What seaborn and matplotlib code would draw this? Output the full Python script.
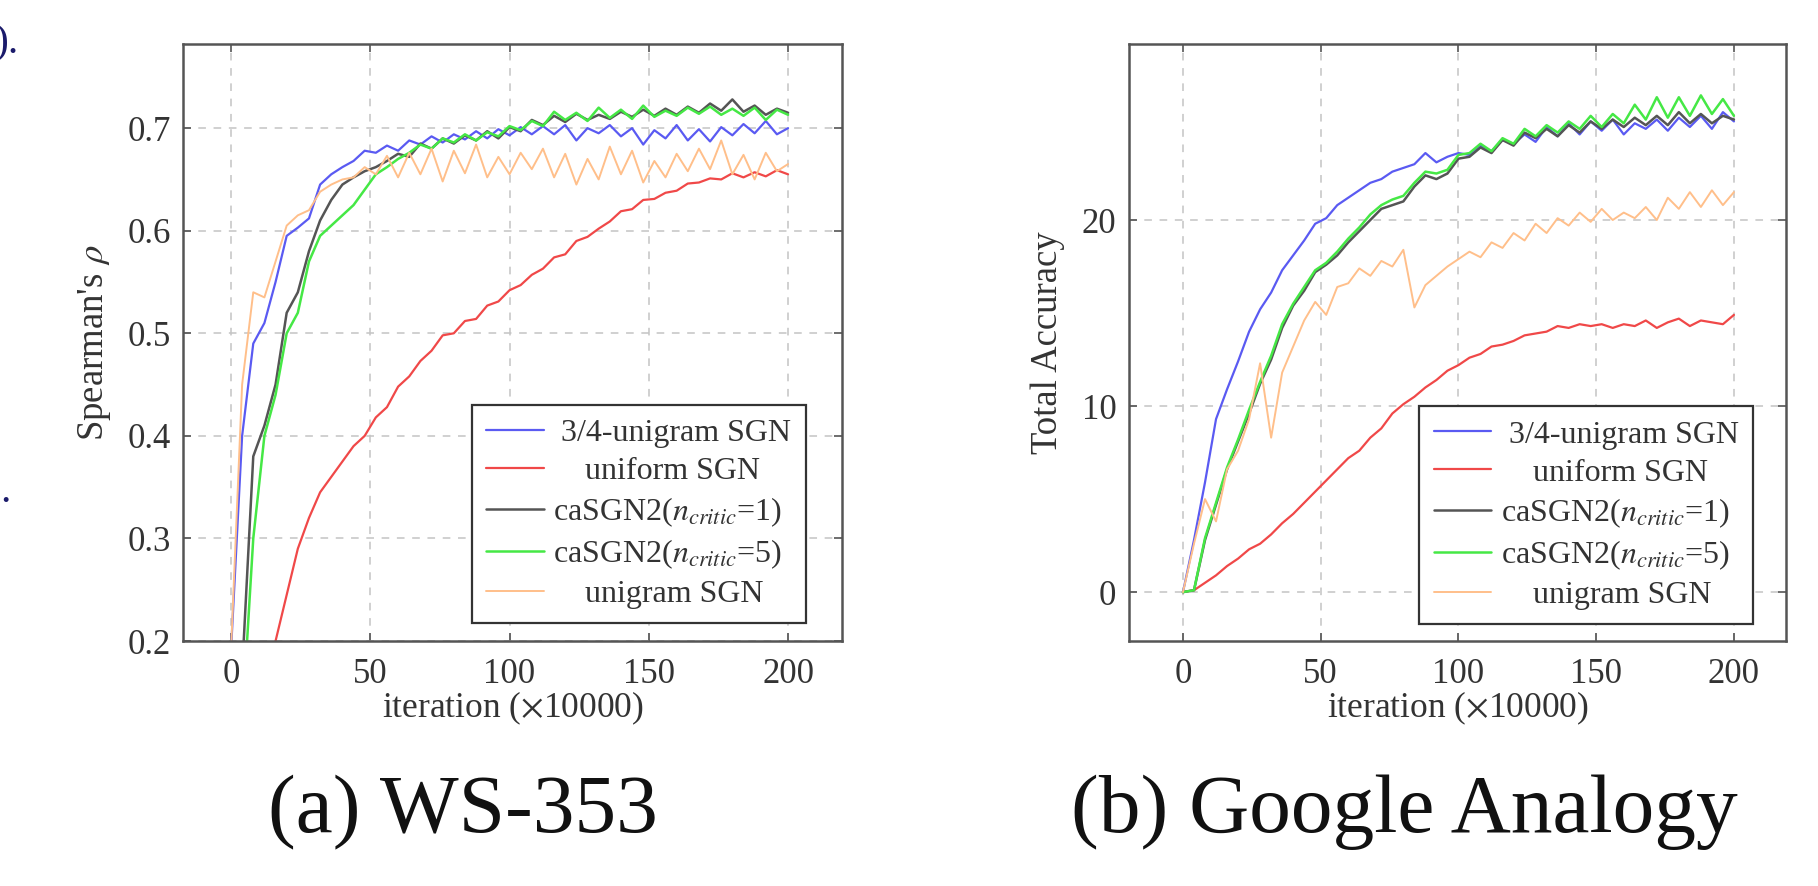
import numpy as np
import matplotlib
matplotlib.use("Agg")
import matplotlib.pyplot as plt
import seaborn as sns

# iterations (x10000), shared by every series
iters = list(range(0, 201, 4))

series_names = [" 3/4-unigram SGN", "    uniform SGN", r"caSGN2($n_{critic}$=1)",
                r"caSGN2($n_{critic}$=5)", "    unigram SGN"]
series_colors = ["#5a5af2", "#f04848", "#555555", "#45e845", "#ffbf8a"]
series_widths = [1.6, 1.6, 1.8, 1.8, 1.4]

# (a) WS-353, Spearman's rho
ws_blue = [0.19, 0.40, 0.49, 0.51, 0.55, 0.595, 0.603, 0.612, 0.645, 0.655, 0.662, 0.668, 0.678,
           0.676, 0.683, 0.678, 0.688, 0.684, 0.692, 0.686, 0.694, 0.689, 0.697, 0.690, 0.699,
           0.693, 0.701, 0.694, 0.702, 0.694, 0.703, 0.688, 0.700, 0.695, 0.703, 0.692, 0.700,
           0.684, 0.698, 0.690, 0.703, 0.688, 0.699, 0.687, 0.701, 0.693, 0.704, 0.695, 0.707,
           0.694, 0.700]
ws_red = [0.0, 0.03, 0.08, 0.14, 0.20, 0.245, 0.29, 0.32, 0.345, 0.36, 0.375, 0.39, 0.40,
          0.418, 0.428, 0.448, 0.458, 0.473, 0.483, 0.498, 0.50, 0.512, 0.514, 0.527, 0.531,
          0.542, 0.547, 0.557, 0.563, 0.574, 0.577, 0.590, 0.594, 0.602, 0.609, 0.619, 0.621,
          0.630, 0.631, 0.637, 0.639, 0.646, 0.647, 0.651, 0.650, 0.656, 0.652, 0.657, 0.653,
          0.659, 0.655]
ws_black = [0.0, 0.17, 0.38, 0.41, 0.45, 0.52, 0.54, 0.58, 0.61, 0.63, 0.645, 0.652, 0.658,
            0.662, 0.668, 0.675, 0.672, 0.685, 0.680, 0.690, 0.685, 0.693, 0.688, 0.697, 0.690,
            0.701, 0.697, 0.708, 0.703, 0.712, 0.706, 0.714, 0.708, 0.713, 0.709, 0.716, 0.711,
            0.718, 0.712, 0.719, 0.713, 0.721, 0.715, 0.724, 0.717, 0.728, 0.716, 0.722, 0.713,
            0.719, 0.715]
ws_green = [0.0, 0.12, 0.30, 0.40, 0.44, 0.50, 0.52, 0.57, 0.595, 0.605, 0.615, 0.625, 0.64,
            0.655, 0.662, 0.670, 0.676, 0.684, 0.680, 0.690, 0.686, 0.694, 0.688, 0.696, 0.692,
            0.702, 0.698, 0.707, 0.702, 0.716, 0.708, 0.715, 0.707, 0.720, 0.710, 0.718, 0.709,
            0.722, 0.711, 0.717, 0.712, 0.720, 0.714, 0.721, 0.713, 0.719, 0.712, 0.720, 0.708,
            0.718, 0.713]
ws_orange = [0.19, 0.45, 0.54, 0.535, 0.57, 0.605, 0.615, 0.62, 0.638, 0.645, 0.65, 0.652, 0.662,
             0.655, 0.673, 0.652, 0.676, 0.655, 0.680, 0.648, 0.678, 0.656, 0.684, 0.652, 0.672,
             0.655, 0.676, 0.660, 0.680, 0.652, 0.675, 0.645, 0.670, 0.650, 0.682, 0.655, 0.678,
             0.647, 0.668, 0.652, 0.675, 0.658, 0.680, 0.660, 0.688, 0.655, 0.674, 0.650, 0.676,
             0.658, 0.665]

# (b) Google Analogy, total accuracy
ga_blue = [0.0, 2.8, 5.9, 9.3, 10.9, 12.4, 14.0, 15.2, 16.1, 17.3, 18.1, 18.9, 19.8, 20.1, 20.8,
           21.2, 21.6, 22.0, 22.2, 22.6, 22.8, 23.0, 23.6, 23.1, 23.4, 23.6, 23.5, 24.0, 23.7,
           24.3, 24.1, 24.6, 24.2, 25.0, 24.5, 25.2, 24.6, 25.3, 24.8, 25.4, 24.6, 25.2, 24.9,
           25.4, 24.8, 25.5, 25.0, 25.6, 24.9, 25.8, 25.3]
ga_red = [0.0, 0.1, 0.5, 0.9, 1.4, 1.8, 2.3, 2.6, 3.1, 3.7, 4.2, 4.8, 5.4, 6.0, 6.6, 7.2, 7.6,
          8.3, 8.8, 9.6, 10.1, 10.5, 11.0, 11.4, 11.9, 12.2, 12.6, 12.8, 13.2, 13.3, 13.5, 13.8,
          13.9, 14.0, 14.3, 14.2, 14.4, 14.3, 14.4, 14.2, 14.4, 14.3, 14.6, 14.2, 14.5, 14.7,
          14.3, 14.6, 14.5, 14.4, 14.9]
ga_black = [0.0, 0.1, 2.8, 4.7, 6.6, 8.1, 9.6, 11.2, 12.5, 14.2, 15.4, 16.2, 17.2, 17.6, 18.1,
            18.8, 19.4, 20.0, 20.6, 20.8, 21.0, 21.8, 22.4, 22.2, 22.5, 23.3, 23.4, 23.9, 23.6,
            24.3, 24.0, 24.7, 24.4, 24.9, 24.5, 25.1, 24.7, 25.3, 24.9, 25.4, 25.0, 25.5, 25.1,
            25.6, 25.1, 25.8, 25.2, 25.7, 25.2, 25.6, 25.4]
ga_green = [0.0, 0.1, 2.9, 4.8, 6.7, 8.2, 9.8, 11.3, 12.7, 14.4, 15.5, 16.4, 17.3, 17.7, 18.3,
            19.0, 19.6, 20.3, 20.8, 21.1, 21.3, 22.0, 22.6, 22.5, 22.7, 23.5, 23.6, 24.1, 23.7,
            24.4, 24.1, 24.9, 24.5, 25.1, 24.7, 25.3, 24.9, 25.6, 25.0, 25.7, 25.2, 26.2, 25.4,
            26.6, 25.5, 26.6, 25.6, 26.7, 25.7, 26.5, 25.6]
ga_orange = [0.0, 2.6, 5.0, 3.8, 6.6, 7.6, 9.3, 12.3, 8.3, 11.8, 13.2, 14.6, 15.6, 14.9, 16.4,
             16.6, 17.4, 17.0, 17.8, 17.5, 18.4, 15.3, 16.5, 17.0, 17.5, 17.9, 18.3, 18.0, 18.8,
             18.5, 19.3, 18.9, 19.8, 19.3, 20.1, 19.7, 20.4, 19.9, 20.6, 20.0, 20.4, 20.1, 20.7,
             20.0, 21.2, 20.6, 21.5, 20.7, 21.6, 20.8, 21.5]

ws_ticks = [0.2, 0.3, 0.4, 0.5, 0.6, 0.7]
ga_ticks = [0, 10, 20]
x_ticks = [0, 50, 100, 150, 200]

sns.set_theme(style="white")
plt.rcParams["font.family"] = ["Liberation Serif", "DejaVu Serif"]
plt.rcParams["mathtext.fontset"] = "stix"

fig = plt.figure(figsize=(18.18, 8.86), dpi=100)
ax1 = fig.add_axes([0.1007, 0.2765, 0.3625, 0.6738])
ax2 = fig.add_axes([0.621, 0.2765, 0.3614, 0.6738])


def draw_panel(ax, data, yticks, ylim, xlim, ylabel, ylab_x, leg_anchor):
    for vals, name, col, lw in zip(data, series_names, series_colors, series_widths):
        sns.lineplot(x=iters, y=vals, ax=ax, color=col, linewidth=lw, label=name)
    ax.set_xlim(*xlim)
    ax.set_ylim(*ylim)
    ax.set_xticks(x_ticks)
    ax.set_yticks(yticks)
    ax.grid(True, color="#c4c4c4", linestyle=(0, (5, 5)), linewidth=1.1)
    for sp in ax.spines.values():
        sp.set_color("#555555")
        sp.set_linewidth(1.8)
    ax.tick_params(direction="in", length=6, width=1.2, color="#555555", labelsize=25,
                   labelcolor="#333333", top=True, right=True, bottom=True, left=True)
    ax.tick_params(axis="x", pad=12)
    ax.tick_params(axis="y", pad=9)
    ax.set_xlabel(r"iteration ($\times$10000)", fontsize=25.5, color="#333333")
    ax.set_ylabel(ylabel, fontsize=26.5, color="#333333")
    ax.xaxis.set_label_coords(0.5, -0.082)
    ax.yaxis.set_label_coords(ylab_x, 0.5)
    handles, labels = ax.get_legend_handles_labels()
    leg = ax.legend(handles, labels, loc="lower right", bbox_to_anchor=leg_anchor,
                    borderaxespad=0, frameon=True, fancybox=False, framealpha=1,
                    edgecolor="#333333", fontsize=23, handlelength=1.8, handletextpad=0.3,
                    labelspacing=0.27, borderpad=0.45)
    leg.get_frame().set_linewidth(1.6)
    for t in leg.get_texts():
        t.set_color("#333333")


draw_panel(ax1, [ws_blue, ws_red, ws_black, ws_green, ws_orange], ws_ticks,
           (0.2, 0.782), (-17.2, 219.4), r"Spearman's $\rho$", -0.106, (0.945, 0.03))
draw_panel(ax2, [ga_blue, ga_red, ga_black, ga_green, ga_orange], ga_ticks,
           (-2.63, 29.46), (-19.6, 218.9), "Total Accuracy", -0.098, (0.95, 0.028))

# sub-captions
fig.text(0.2547, 0.061, "(a) WS-353", fontsize=60, ha="center", va="baseline", color="#111111")
fig.text(0.7723, 0.061, "(b) Google Analogy", fontsize=60, ha="center", va="baseline",
         color="#111111")

# bits of the surrounding page text cut off at the left edge
fig.text(0.0105, 0.940, ").", fontsize=30, ha="right", va="baseline", color="#1b1b6b")
fig.text(0.0, 0.433, ".", fontsize=30, ha="left", va="baseline", color="#1b1b6b")

fig.savefig("out.png", dpi=100)
